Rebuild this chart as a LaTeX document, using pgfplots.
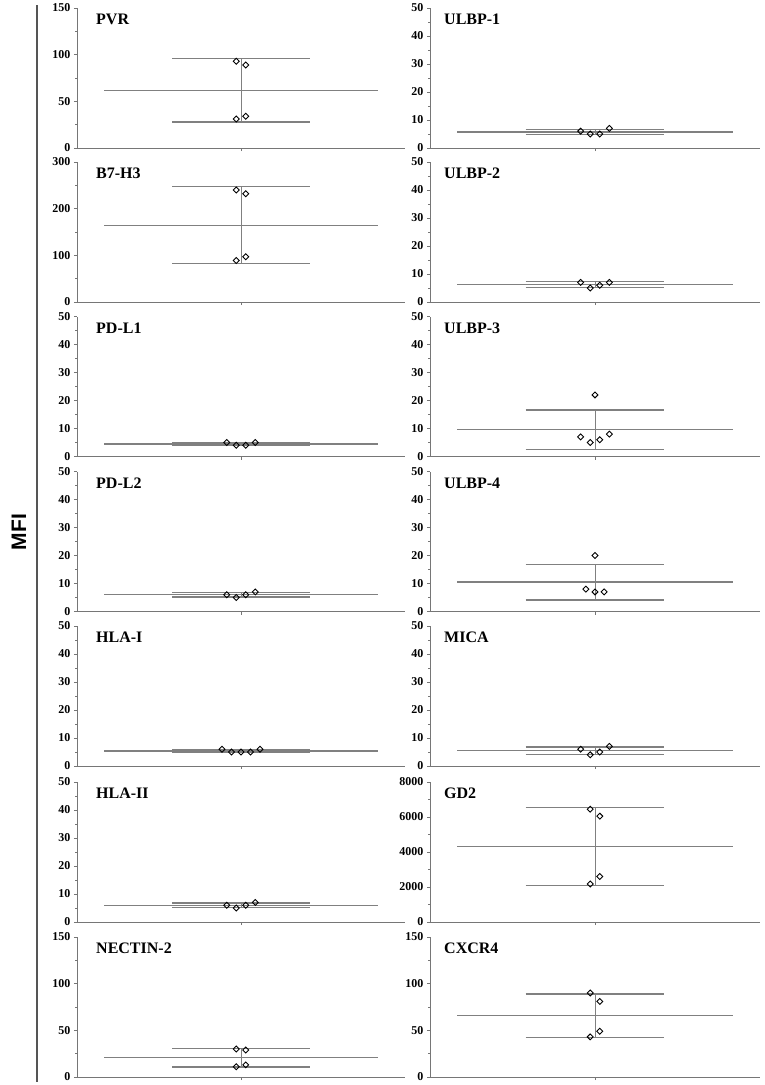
\documentclass[border=0pt]{standalone}
\usepackage{fontspec}
\setmainfont{Liberation Serif}
\setsansfont{Liberation Sans}
\usepackage{pgfplots}
\pgfplotsset{compat=1.18}
\definecolor{lngray}{RGB}{128,128,128}
\definecolor{axgray}{RGB}{118,118,118}

\pgfplotsset{
  panel/.style={
    anchor=south west, scale only axis, height=140pt,
    xmin=0, xmax=2, ymin=0, enlargelimits=false,
    axis lines=left, axis line style={-, draw=axgray, line width=0.9pt},
    tick align=outside, xtick pos=left, ytick pos=left,
    xtick={1}, xticklabels={},
    minor y tick num=1,
    major tick length=3pt, minor tick length=2pt,
    tick style={draw=axgray, line width=0.7pt},
    /pgf/number format/assume math mode=true,
    /pgf/number format/1000 sep={},
    scaled y ticks=false,
    yticklabel style={font=\bfseries\fontsize{12}{12}\selectfont},
  },
  meanline/.style={draw=lngray, line width=1.3pt, no marks},
  vline/.style={draw=lngray, line width=0.9pt, no marks},
  pts/.style={only marks, mark=square, mark size=2.1pt,
    mark options={rotate=45, fill=white, draw=black, line width=0.9pt}},
}
\tikzset{
  ttl/.style={anchor=base west, inner sep=0pt, yshift=-16.5pt,
    font=\bfseries\fontsize{16}{16}\selectfont},
}

\begin{document}
\begin{tikzpicture}

% ---------- left column ----------
\begin{axis}[panel, at={(77pt,-148pt)}, width=328pt, ymax=150, ytick distance=50]
  \addplot[meanline] coordinates {(0.165,61.75) (1.835,61.75)};
  \addplot[meanline] coordinates {(0.58,95.59) (1.42,95.59)};
  \addplot[meanline] coordinates {(0.58,27.91) (1.42,27.91)};
  \addplot[vline] coordinates {(1,27.91) (1,95.59)};
  \addplot[pts] coordinates {(0.971,93) (1.029,89) (0.971,31) (1.029,34)};
  \node[ttl, xshift=19pt] at (rel axis cs:0,1) {PVR};
\end{axis}

\begin{axis}[panel, at={(77pt,-302pt)}, width=328pt, ymax=300, ytick distance=100]
  \addplot[meanline] coordinates {(0.165,164.5) (1.835,164.5)};
  \addplot[meanline] coordinates {(0.58,247.2) (1.42,247.2)};
  \addplot[meanline] coordinates {(0.58,81.8) (1.42,81.8)};
  \addplot[vline] coordinates {(1,81.8) (1,247.2)};
  \addplot[pts] coordinates {(0.971,240) (1.029,232) (0.971,89) (1.029,97)};
  \node[ttl, xshift=19pt] at (rel axis cs:0,1) {B7-H3};
\end{axis}

\begin{axis}[panel, at={(77pt,-456.5pt)}, width=328pt, ymax=50, ytick distance=10]
  \addplot[meanline] coordinates {(0.165,4.5) (1.835,4.5)};
  \addplot[meanline] coordinates {(0.58,5.08) (1.42,5.08)};
  \addplot[meanline] coordinates {(0.58,3.92) (1.42,3.92)};
  \addplot[vline] coordinates {(1,3.92) (1,5.08)};
  \addplot[pts] coordinates {(0.913,5) (0.971,4) (1.029,4) (1.087,5)};
  \node[ttl, xshift=19pt] at (rel axis cs:0,1) {PD-L1};
\end{axis}

\begin{axis}[panel, at={(77pt,-611.5pt)}, width=328pt, ymax=50, ytick distance=10]
  \addplot[meanline] coordinates {(0.165,6) (1.835,6)};
  \addplot[meanline] coordinates {(0.58,6.82) (1.42,6.82)};
  \addplot[meanline] coordinates {(0.58,5.18) (1.42,5.18)};
  \addplot[vline] coordinates {(1,5.18) (1,6.82)};
  \addplot[pts] coordinates {(0.913,6) (0.971,5) (1.029,6) (1.087,7)};
  \node[ttl, xshift=19pt] at (rel axis cs:0,1) {PD-L2};
\end{axis}

\begin{axis}[panel, at={(77pt,-766pt)}, width=328pt, ymax=50, ytick distance=10]
  \addplot[meanline] coordinates {(0.165,5.4) (1.835,5.4)};
  \addplot[meanline] coordinates {(0.58,5.95) (1.42,5.95)};
  \addplot[meanline] coordinates {(0.58,4.85) (1.42,4.85)};
  \addplot[vline] coordinates {(1,4.85) (1,5.95)};
  \addplot[pts] coordinates {(0.884,6) (0.942,5) (1,5) (1.058,5) (1.116,6)};
  \node[ttl, xshift=19pt] at (rel axis cs:0,1) {HLA-I};
\end{axis}

\begin{axis}[panel, at={(77pt,-922pt)}, width=328pt, ymax=50, ytick distance=10]
  \addplot[meanline] coordinates {(0.165,6) (1.835,6)};
  \addplot[meanline] coordinates {(0.58,6.82) (1.42,6.82)};
  \addplot[meanline] coordinates {(0.58,5.18) (1.42,5.18)};
  \addplot[vline] coordinates {(1,5.18) (1,6.82)};
  \addplot[pts] coordinates {(0.913,6) (0.971,5) (1.029,6) (1.087,7)};
  \node[ttl, xshift=19pt] at (rel axis cs:0,1) {HLA-II};
\end{axis}

\begin{axis}[panel, at={(77pt,-1077pt)}, width=328pt, ymax=150, ytick distance=50]
  \addplot[meanline] coordinates {(0.165,20.75) (1.835,20.75)};
  \addplot[meanline] coordinates {(0.58,30.9) (1.42,30.9)};
  \addplot[meanline] coordinates {(0.58,10.6) (1.42,10.6)};
  \addplot[vline] coordinates {(1,10.6) (1,30.9)};
  \addplot[pts] coordinates {(0.971,30) (1.029,29) (0.971,11) (1.029,13)};
  \node[ttl, xshift=19pt] at (rel axis cs:0,1) {NECTIN-2};
\end{axis}

% ---------- right column ----------
\begin{axis}[panel, at={(430pt,-148pt)}, width=330pt, ymax=50, ytick distance=10]
  \addplot[meanline] coordinates {(0.165,5.75) (1.835,5.75)};
  \addplot[meanline] coordinates {(0.58,6.71) (1.42,6.71)};
  \addplot[meanline] coordinates {(0.58,4.79) (1.42,4.79)};
  \addplot[vline] coordinates {(1,4.79) (1,6.71)};
  \addplot[pts] coordinates {(0.913,6) (0.971,5) (1.029,5) (1.087,7)};
  \node[ttl, xshift=14pt] at (rel axis cs:0,1) {ULBP-1};
\end{axis}

\begin{axis}[panel, at={(430pt,-302pt)}, width=330pt, ymax=50, ytick distance=10]
  \addplot[meanline] coordinates {(0.165,6.25) (1.835,6.25)};
  \addplot[meanline] coordinates {(0.58,7.21) (1.42,7.21)};
  \addplot[meanline] coordinates {(0.58,5.29) (1.42,5.29)};
  \addplot[vline] coordinates {(1,5.29) (1,7.21)};
  \addplot[pts] coordinates {(0.913,7) (0.971,5) (1.029,6) (1.087,7)};
  \node[ttl, xshift=14pt] at (rel axis cs:0,1) {ULBP-2};
\end{axis}

\begin{axis}[panel, at={(430pt,-456.5pt)}, width=330pt, ymax=50, ytick distance=10]
  \addplot[meanline] coordinates {(0.165,9.6) (1.835,9.6)};
  \addplot[meanline] coordinates {(0.58,16.62) (1.42,16.62)};
  \addplot[meanline] coordinates {(0.58,2.58) (1.42,2.58)};
  \addplot[vline] coordinates {(1,2.58) (1,16.62)};
  \addplot[pts] coordinates {(0.913,7) (0.971,5) (1,22) (1.029,6) (1.087,8)};
  \node[ttl, xshift=14pt] at (rel axis cs:0,1) {ULBP-3};
\end{axis}

\begin{axis}[panel, at={(430pt,-611.5pt)}, width=330pt, ymax=50, ytick distance=10]
  \addplot[meanline] coordinates {(0.165,10.5) (1.835,10.5)};
  \addplot[meanline] coordinates {(0.58,16.85) (1.42,16.85)};
  \addplot[meanline] coordinates {(0.58,4.15) (1.42,4.15)};
  \addplot[vline] coordinates {(1,4.15) (1,16.85)};
  \addplot[pts] coordinates {(0.945,8) (1,20) (1,7) (1.055,7)};
  \node[ttl, xshift=14pt] at (rel axis cs:0,1) {ULBP-4};
\end{axis}

\begin{axis}[panel, at={(430pt,-766pt)}, width=330pt, ymax=50, ytick distance=10]
  \addplot[meanline] coordinates {(0.165,5.5) (1.835,5.5)};
  \addplot[meanline] coordinates {(0.58,6.79) (1.42,6.79)};
  \addplot[meanline] coordinates {(0.58,4.21) (1.42,4.21)};
  \addplot[vline] coordinates {(1,4.21) (1,6.79)};
  \addplot[pts] coordinates {(0.913,6) (0.971,4) (1.029,5) (1.087,7)};
  \node[ttl, xshift=14pt] at (rel axis cs:0,1) {MICA};
\end{axis}

\begin{axis}[panel, at={(430pt,-922pt)}, width=330pt, ymax=8000, ytick distance=2000]
  \addplot[meanline] coordinates {(0.165,4317.5) (1.835,4317.5)};
  \addplot[meanline] coordinates {(0.58,6561.8) (1.42,6561.8)};
  \addplot[meanline] coordinates {(0.58,2073.2) (1.42,2073.2)};
  \addplot[vline] coordinates {(1,2073.2) (1,6561.8)};
  \addplot[pts] coordinates {(0.971,6450) (1.029,6050) (0.971,2170) (1.029,2600)};
  \node[ttl, xshift=14pt] at (rel axis cs:0,1) {GD2};
\end{axis}

\begin{axis}[panel, at={(430pt,-1077pt)}, width=330pt, ymax=150, ytick distance=50]
  \addplot[meanline] coordinates {(0.165,65.75) (1.835,65.75)};
  \addplot[meanline] coordinates {(0.58,88.98) (1.42,88.98)};
  \addplot[meanline] coordinates {(0.58,42.52) (1.42,42.52)};
  \addplot[vline] coordinates {(1,42.52) (1,88.98)};
  \addplot[pts] coordinates {(0.971,90) (1.029,81) (0.971,43) (1.029,49)};
  \node[ttl, xshift=14pt] at (rel axis cs:0,1) {CXCR4};
\end{axis}

% shared y label and separator
\draw[line width=2pt, draw={rgb,255:red,85;green,85;blue,85}] (37pt,-5pt) -- (37pt,-1082pt);
\node[rotate=90, font=\sffamily\bfseries\fontsize{21}{21}\selectfont] at (19pt,-532pt) {MFI};

\pgfresetboundingbox
\path[use as bounding box] (0,0) rectangle (765pt,-1085pt);
\end{tikzpicture}
\end{document}
